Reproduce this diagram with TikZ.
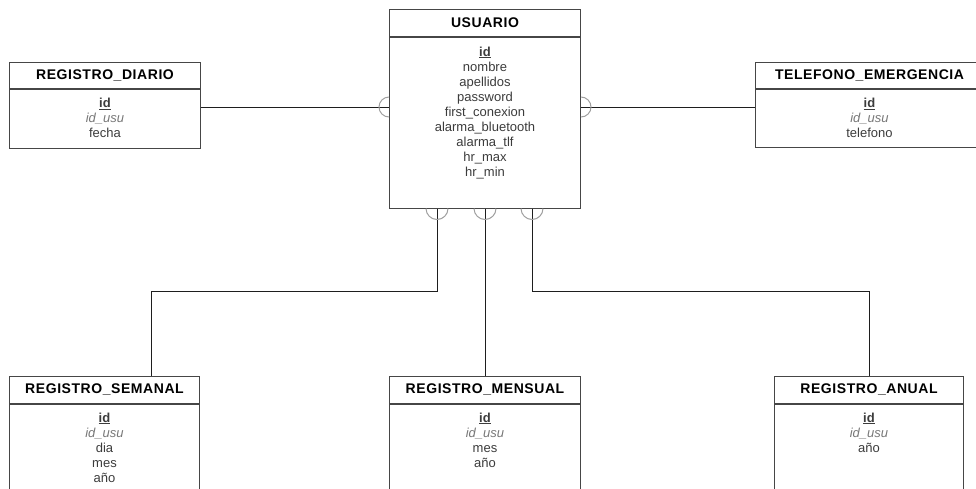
\documentclass[tikz,border=0pt]{standalone}
\usepackage{fontspec}
\setmainfont{Liberation Sans}
\usepackage{tikz}
\usetikzlibrary{positioning, calc}
\definecolor{ERBorde}{RGB}{70, 70, 70}
\definecolor{ERLinea}{RGB}{30, 30, 30}
\definecolor{ERArco}{RGB}{160, 160, 160}
\definecolor{ERTexto}{RGB}{60, 60, 60}
\definecolor{ERClave}{RGB}{120, 120, 120}

\tikzset{
  cabecera/.style={draw=ERBorde, line width=1pt, fill=white, anchor=north west,
    minimum height=26.5pt, inner sep=0pt,
    font=\fontsize{14}{16}\selectfont\bfseries\addfontfeature{LetterSpace=4}},
  cuerpo/.style={draw=ERBorde, line width=1pt, fill=white, anchor=north west, inner sep=0pt},
  campos/.style={align=center, inner sep=0pt, text=ERTexto,
    font=\fontsize{13}{15.1}\selectfont},
  conector/.style={draw=ERLinea, line width=1pt},
  semiarco/.style={draw=ERArco, line width=1pt},
}
\newcommand{\clave}{\textbf{\underline{id}}}
\newcommand{\foranea}{{\color{ERClave}\itshape id\_usu}}

\begin{document}
\begin{tikzpicture}[x=1pt,y=-1pt]
  \clip (0,0) rectangle (976,488);
  \fill[white] (0,0) rectangle (976,488);

  % entidades
  \node[cabecera, minimum width=191pt] (usuH) at (389,9) {USUARIO};
  \node[cuerpo, minimum width=191pt, minimum height=171pt] (usuB) at (usuH.south west) {};
  \node[campos, below=10pt of usuB.north] (usuC) {\clave\\nombre\\apellidos\\password\\first\_conexion\\alarma\_bluetooth\\alarma\_tlf\\hr\_max\\hr\_min};

  \node[cabecera, minimum width=191pt] (diaH) at (9,61.5) {REGISTRO\_DIARIO};
  \node[cuerpo, minimum width=191pt, minimum height=59pt] (diaB) at (diaH.south west) {};
  \node[campos, below=9pt of diaB.north] (diaC) {\clave\\\foranea\\fecha};

  \node[cabecera, minimum width=228pt] (telH) at (755,61.5) {TELEFONO\_EMERGENCIA};
  \node[cuerpo, minimum width=228pt, minimum height=58pt] (telB) at (telH.south west) {};
  \node[campos, below=9pt of telB.north] (telC) {\clave\\\foranea\\telefono};

  \node[cabecera, minimum width=190pt] (semH) at (9,376) {REGISTRO\_SEMANAL};
  \node[cuerpo, minimum width=190pt, minimum height=100pt] (semB) at (semH.south west) {};
  \node[campos, below=9pt of semB.north] (semC) {\clave\\\foranea\\dia\\mes\\año};

  \node[cabecera, minimum width=191pt] (menH) at (389,376) {REGISTRO\_MENSUAL};
  \node[cuerpo, minimum width=191pt, minimum height=100pt] (menB) at (menH.south west) {};
  \node[campos, below=9pt of menB.north] (menC) {\clave\\\foranea\\mes\\año};

  \node[cabecera, minimum width=189pt] (anuH) at (774,376) {REGISTRO\_ANUAL};
  \node[cuerpo, minimum width=189pt, minimum height=100pt] (anuB) at (anuH.south west) {};
  \node[campos, below=9pt of anuB.north] (anuC) {\clave\\\foranea\\año};

  % puntos de union en USUARIO
  \coordinate (pIzq) at (usuB.west |- 0,107);
  \coordinate (pDer) at (usuB.east |- 0,107);
  \coordinate (pSem) at (437,0 |- usuB.south);
  \coordinate (pMen) at (usuB.south);
  \coordinate (pAnu) at (532,0 |- usuB.south);
  \coordinate (cSem) at (151,291);
  \coordinate (cAnu) at (869,291);

  % relaciones
  \path[conector] (diaB.east |- pIzq) -- (pIzq);
  \path[conector] (pDer) -- (telB.west |- pDer);
  \path[conector] (pSem) |- (cSem) -- (cSem |- semH.north);
  \path[conector] (pMen) -- (menH.north);
  \path[conector] (pAnu) |- (cAnu) -- (cAnu |- anuH.north);

  \path[semiarco] (pIzq) ++(0,10) arc[start angle=90, end angle=270, radius=10];
  \path[semiarco] (pDer) ++(0,-10) arc[start angle=-90, end angle=90, radius=10];
  \foreach \p in {pSem,pMen,pAnu}{
    \path[semiarco] (\p) ++(11,0) arc[start angle=0, end angle=180, radius=11];
  }
\end{tikzpicture}
\end{document}
